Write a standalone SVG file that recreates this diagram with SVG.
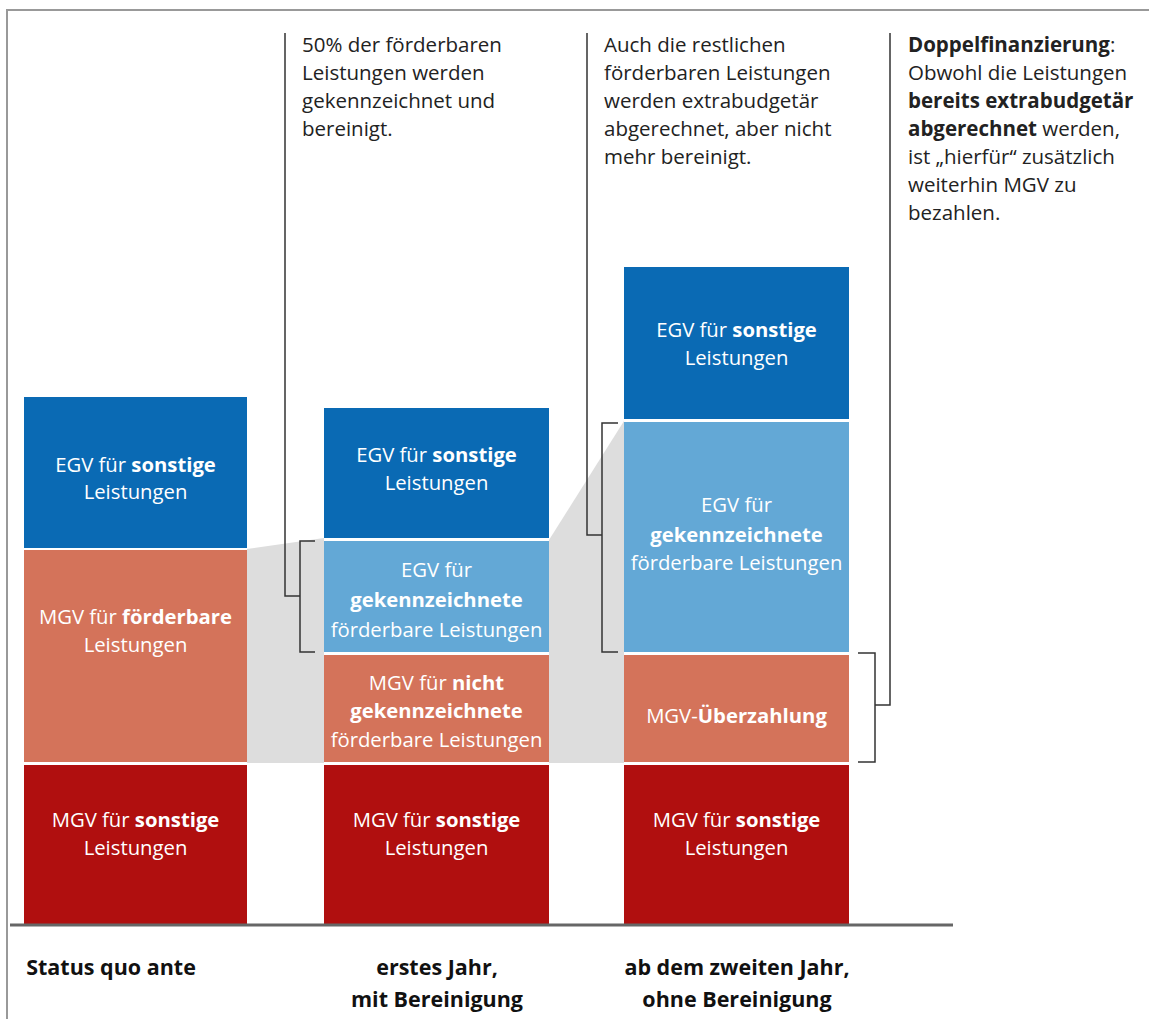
<svg xmlns="http://www.w3.org/2000/svg" width="1149" height="1019" viewBox="0 0 1149 1019">
<style>
.box text{font-family:"Open Sans","Liberation Sans",sans-serif;font-size:20.3px;fill:#fff;text-anchor:middle}
.b{font-weight:bold}
.note{font-family:"Open Sans","Liberation Sans",sans-serif;font-size:20.5px;fill:#222}
.lab{font-family:"Open Sans","Liberation Sans",sans-serif;font-size:21.5px;font-weight:bold;fill:#111;text-anchor:middle}
.blue{fill:#0a6ab4}.lblue{fill:#63a8d6}.salmon{fill:#d4735a}.red{fill:#b00f0f}
.shade{fill:#dddddd}
.ln{fill:none;stroke:#333;stroke-width:1.5}
</style>
<rect width="1149" height="1019" fill="#fff"/>
<path d="M7 1019 V10 H1149" fill="none" stroke="#999" stroke-width="2"/>
<g id="shading">
<polygon class="shade" points="247,549 324,538 324,763 247,763"/>
<polygon class="shade" points="549,540 624,421 624,763 549,763"/>
</g>
<g id="col1" class="box">
<rect class="blue" x="24" y="397" width="223" height="151"/>
<text x="135.5" y="472">EGV für <tspan class="b">sonstige</tspan></text>
<text x="135.5" y="499">Leistungen</text>
<rect class="salmon" x="24" y="550" width="223" height="212"/>
<text x="135.5" y="624">MGV für <tspan class="b">förderbare</tspan></text>
<text x="135.5" y="652">Leistungen</text>
<rect class="red" x="24" y="765" width="223" height="160"/>
<text x="135.5" y="827">MGV für <tspan class="b">sonstige</tspan></text>
<text x="135.5" y="855">Leistungen</text>
</g>
<g id="col2" class="box">
<rect class="blue" x="324" y="408" width="225" height="130"/>
<text x="436.5" y="462">EGV für <tspan class="b">sonstige</tspan></text>
<text x="436.5" y="490">Leistungen</text>
<rect class="lblue" x="324" y="541" width="225" height="111"/>
<text x="436.5" y="577">EGV für</text>
<text x="436.5" y="607" class="b">gekennzeichnete</text>
<text x="436.5" y="637">förderbare Leistungen</text>
<rect class="salmon" x="324" y="655" width="225" height="107"/>
<text x="436.5" y="690">MGV für <tspan class="b">nicht</tspan></text>
<text x="436.5" y="718" class="b">gekennzeichnete</text>
<text x="436.5" y="747">förderbare Leistungen</text>
<rect class="red" x="324" y="765" width="225" height="160"/>
<text x="436.5" y="827">MGV für <tspan class="b">sonstige</tspan></text>
<text x="436.5" y="855">Leistungen</text>
</g>
<g id="col3" class="box">
<rect class="blue" x="624" y="267" width="225" height="152"/>
<text x="736.5" y="337">EGV für <tspan class="b">sonstige</tspan></text>
<text x="736.5" y="365">Leistungen</text>
<rect class="lblue" x="624" y="422" width="225" height="230"/>
<text x="736.5" y="512">EGV für</text>
<text x="736.5" y="542" class="b">gekennzeichnete</text>
<text x="736.5" y="570">förderbare Leistungen</text>
<rect class="salmon" x="624" y="655" width="225" height="107"/>
<text x="736.5" y="723">MGV-<tspan class="b">Überzahlung</tspan></text>
<rect class="red" x="624" y="765" width="225" height="160"/>
<text x="736.5" y="827">MGV für <tspan class="b">sonstige</tspan></text>
<text x="736.5" y="855">Leistungen</text>
</g>
<g id="connectors">
<path class="ln" d="M285 33 V596 H300 M315 541 H300 V652 H315"/>
<path class="ln" d="M587 33 V535 H602 M618 423 H602 V652 H618"/>
<path class="ln" d="M890 33 V705 H875 M858 653 H875 V762 H858"/>
<line x1="10" y1="925" x2="953" y2="925" stroke="#666" stroke-width="3"/>
</g>
<g id="note1">
<text class="note" x="302" y="52">50% der förderbaren</text>
<text class="note" x="302" y="80">Leistungen werden</text>
<text class="note" x="302" y="108">gekennzeichnet und</text>
<text class="note" x="302" y="136">bereinigt.</text>
</g>
<g id="note2">
<text class="note" x="604" y="52">Auch die restlichen</text>
<text class="note" x="604" y="80">förderbaren Leistungen</text>
<text class="note" x="604" y="108">werden extrabudgetär</text>
<text class="note" x="604" y="136">abgerechnet, aber nicht</text>
<text class="note" x="604" y="164">mehr bereinigt.</text>
</g>
<g id="note3">
<text class="note" x="908" y="52"><tspan class="b">Doppelfinanzierung</tspan>:</text>
<text class="note" x="908" y="80">Obwohl die Leistungen</text>
<text class="note b" x="908" y="108">bereits extrabudgetär</text>
<text class="note" x="908" y="136"><tspan class="b">abgerechnet</tspan> werden,</text>
<text class="note" x="908" y="164">ist „hierfür“ zusätzlich</text>
<text class="note" x="908" y="192">weiterhin MGV zu</text>
<text class="note" x="908" y="220">bezahlen.</text>
</g>
<g id="labels">
<text class="lab" x="111" y="975">Status quo ante</text>
<text class="lab" x="437" y="975">erstes Jahr,</text>
<text class="lab" x="437" y="1007">mit Bereinigung</text>
<text class="lab" x="737" y="975">ab dem zweiten Jahr,</text>
<text class="lab" x="737" y="1007">ohne Bereinigung</text>
</g>
</svg>
